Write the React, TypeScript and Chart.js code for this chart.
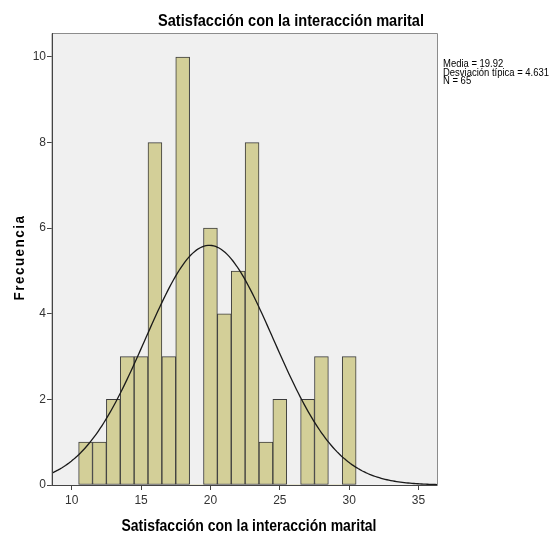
import React, { useEffect, useRef } from "react";
import { Chart, registerables } from "chart.js";

Chart.register(...registerables);

const TITLE = "Satisfacción con la interacción marital";
const X_TITLE = "Satisfacción con la interacción marital";
const Y_TITLE = "Frecuencia";
const binCenters = [11, 12, 13, 14, 15, 16, 17, 18, 19, 20, 21, 22, 23, 24, 25, 26, 27, 28, 29, 30];
const counts = [1, 1, 2, 3, 3, 8, 3, 10, 0, 6, 4, 5, 8, 1, 2, 0, 2, 3, 0, 3];
const xTicks = [10, 15, 20, 25, 30, 35];
const yTicks = [0, 2, 4, 6, 8, 10];
const MEAN = 19.92;
const SD = 4.631;
const N = 65;
const statLines = ["Media = 19.92", "Desviación típica = 4.631", "N = 65"];
const X_MIN = 8.58;
const X_MAX = 36.33;
const Y_MAX = 10.56;

function normalCurve() {
  const pts: { x: number; y: number }[] = [];
  const steps = 200;
  for (let i = 0; i <= steps; i++) {
    const x = X_MIN + ((X_MAX - X_MIN) * i) / steps;
    const z = (x - MEAN) / SD;
    const y = (N * 1) / (SD * Math.sqrt(2 * Math.PI)) * Math.exp(-0.5 * z * z);
    pts.push({ x, y });
  }
  return pts;
}

function fitText(ctx: CanvasRenderingContext2D, text: string, x: number, y: number, width: number, align: "left" | "center") {
  const w = ctx.measureText(text).width;
  const s = width / w;
  ctx.save();
  ctx.translate(x, y);
  ctx.scale(s, 1);
  ctx.textAlign = align;
  ctx.fillText(text, 0, 0);
  ctx.restore();
}

const SANS = "'Liberation Sans', Arial, sans-serif";

const framePlugin = {
  id: "frame",
  beforeDraw(chart: any) {
    const { ctx, chartArea } = chart;
    ctx.save();
    ctx.fillStyle = "#F0F0F0";
    ctx.fillRect(chartArea.left, chartArea.top, chartArea.right - chartArea.left, chartArea.bottom - chartArea.top);
    ctx.restore();
  },
  afterDraw(chart: any) {
    const { ctx, chartArea } = chart;
    const { left, right, top, bottom } = chartArea;
    ctx.save();
    ctx.strokeStyle = "#8C8C8C";
    ctx.lineWidth = 1;
    ctx.beginPath();
    ctx.moveTo(left, bottom + 0.5);
    ctx.lineTo(left, top + 0.5);
    ctx.lineTo(right + 0.5, top + 0.5);
    ctx.lineTo(right + 0.5, bottom);
    ctx.stroke();
    ctx.strokeStyle = "#444444";
    ctx.beginPath();
    ctx.moveTo(left, bottom + 0.5);
    ctx.lineTo(right + 0.5, bottom + 0.5);
    ctx.moveTo(left + 0.5, top);
    ctx.lineTo(left + 0.5, bottom + 0.5);
    ctx.stroke();

    ctx.fillStyle = "#000000";
    ctx.textBaseline = "alphabetic";
    ctx.font = "bold 17px " + SANS;
    fitText(ctx, TITLE, 291, 26, 266, "center");
    ctx.font = "bold 16px " + SANS;
    fitText(ctx, X_TITLE, 249, 531, 255, "center");

    ctx.save();
    ctx.translate(24, 257.5);
    ctx.rotate(-Math.PI / 2);
    (ctx as any).letterSpacing = "1.5px";
    ctx.font = "bold 14px " + SANS;
    fitText(ctx, Y_TITLE, 0, 0, 86, "center");
    ctx.restore();

    ctx.textBaseline = "alphabetic";
    ctx.font = "10px " + SANS;
    const w = ctx.measureText(statLines[1]).width;
    const s = 106 / w;
    statLines.forEach((t, i) => {
      ctx.save();
      ctx.translate(right + 6, 67 + i * 8.7);
      ctx.scale(s, 1);
      ctx.textAlign = "left";
      ctx.fillText(t, 0, 0);
      ctx.restore();
    });
    ctx.restore();
  },
};

export default function App() {
  const ref = useRef<HTMLCanvasElement | null>(null);
  useEffect(() => {
    if (!ref.current) return;
    const chart = new Chart(ref.current, {
      type: "bar",
      data: {
        datasets: [
          {
            type: "bar",
            data: binCenters.map((x, i) => ({ x, y: counts[i] })),
            backgroundColor: "#D3CF98",
            borderColor: "#3C3C3C",
            borderWidth: (c: any) => (c.raw && c.raw.y > 0 ? 1 : 0),
            borderSkipped: false,
            barPercentage: 1,
            categoryPercentage: 1,
            order: 2,
          } as any,
          {
            type: "line",
            data: normalCurve(),
            borderColor: "#1A1A1A",
            borderWidth: 1.3,
            pointRadius: 0,
            tension: 0,
            order: 1,
          } as any,
        ],
      },
      options: {
        animation: false,
        responsive: false,
        maintainAspectRatio: false,
        layout: { padding: { left: 0, top: 33, right: 121, bottom: 0 } },
        plugins: { legend: { display: false }, tooltip: { enabled: false }, title: { display: false } },
        scales: {
          x: {
            type: "linear",
            min: X_MIN,
            max: X_MAX,
            offset: false,
            afterBuildTicks: (s: any) => {
              s.ticks = xTicks.map((v) => ({ value: v }));
            },
            afterFit: (s: any) => {
              s.height = 49;
            },
            grid: { offset: false, drawOnChartArea: false, drawTicks: true, tickLength: 5, color: "#444444" },
            border: { display: false },
            ticks: {
              color: "#333333",
              font: { family: SANS, size: 12 },
              padding: 3,
              maxRotation: 0,
              autoSkip: false,
            },
          },
          y: {
            type: "linear",
            min: 0,
            max: Y_MAX,
            afterBuildTicks: (s: any) => {
              s.ticks = yTicks.map((v) => ({ value: v }));
            },
            afterFit: (s: any) => {
              s.width = 52;
            },
            grid: { drawOnChartArea: false, drawTicks: true, tickLength: 5, color: "#444444" },
            border: { display: false },
            ticks: {
              color: "#333333",
              font: { family: SANS, size: 12 },
              padding: 1,
              autoSkip: false,
            },
          },
        },
      },
      plugins: [framePlugin],
    } as any);
    return () => chart.destroy();
  }, []);
  return (
    <div style={{ position: "fixed", left: 0, top: 0, width: 558, height: 534, background: "#fff" }}>
      <canvas ref={ref} width={558} height={534} style={{ width: 558, height: 534 }} />
    </div>
  );
}
